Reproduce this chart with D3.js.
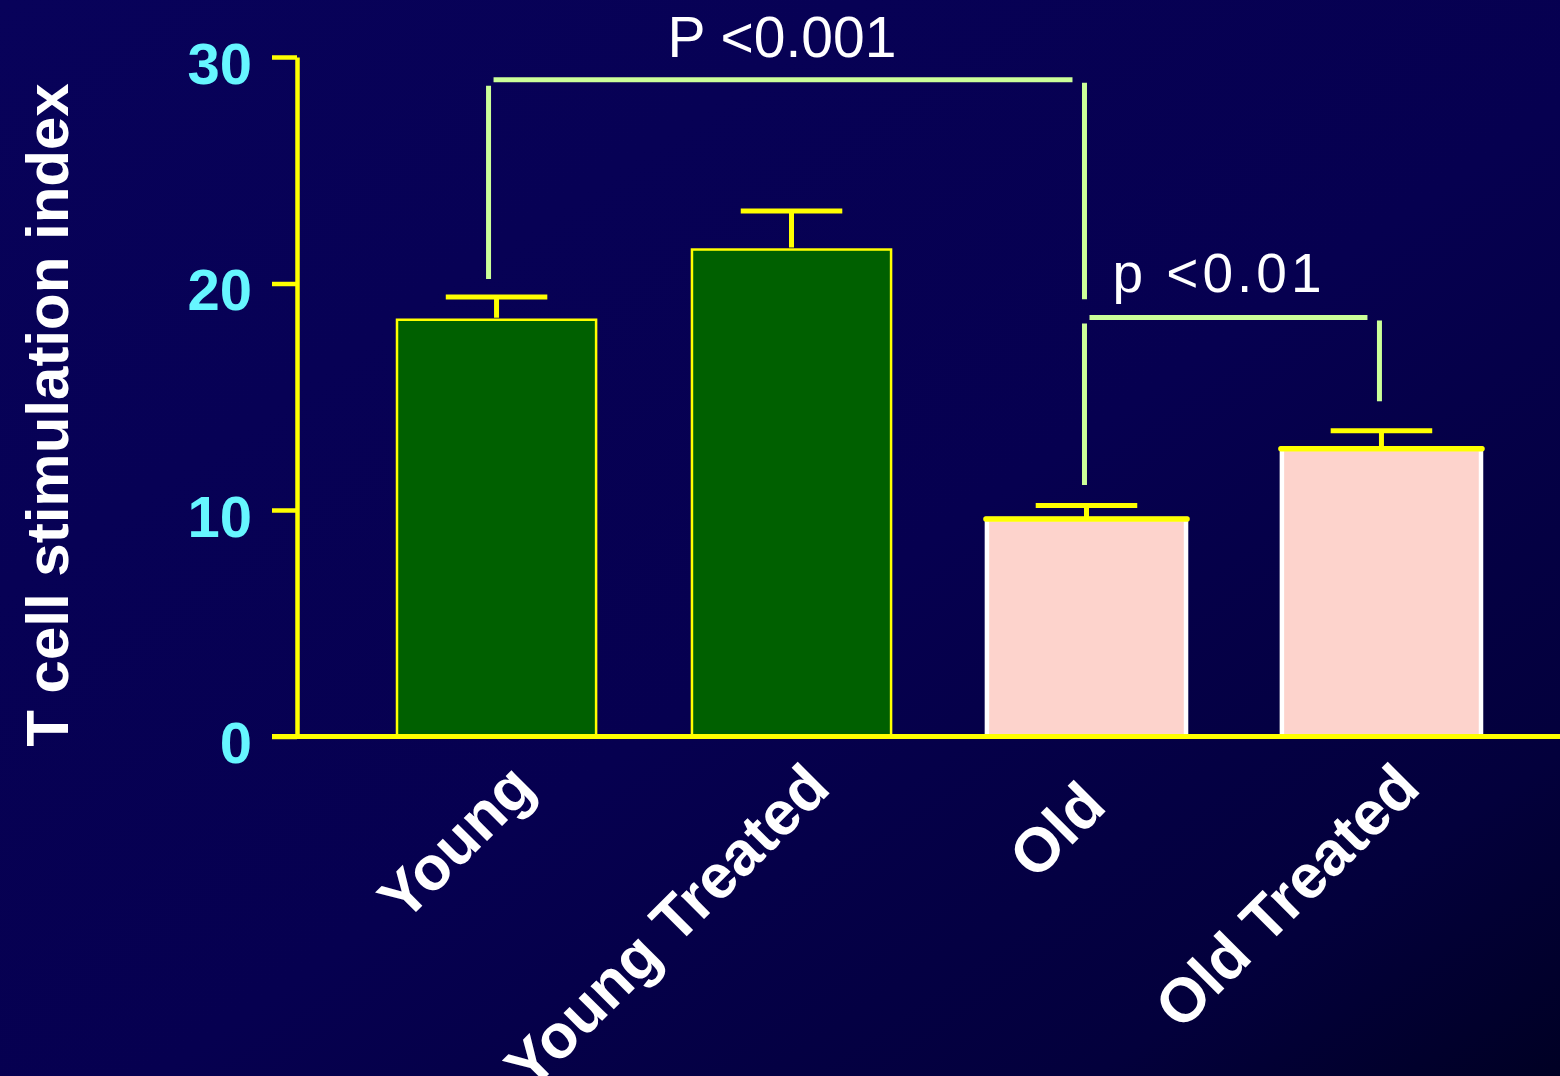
<!DOCTYPE html>
<html>
<head>
<meta charset="utf-8">
<script src="https://cdn.jsdelivr.net/npm/d3@7"></script>
<style>
  html, body { margin: 0; padding: 0; background: #05004f; }
  svg { display: block; }
  text { font-family: "Liberation Sans", Arial, Helvetica, sans-serif; }
</style>
</head>
<body>
<svg id="chart" width="1560" height="1076"></svg>
<script>
// Group means and SEM of the T cell stimulation index
const categories = ["Young", "Young Treated", "Old", "Old Treated"];
const means = [18.4, 21.5, 9.6, 12.7];
const sems = [1.0, 1.7, 0.6, 0.8];
const ageGroup = ["young", "young", "old", "old"];
const yTicks = [0, 10, 20, 30];

// Significance comparisons: pairs of category indices, label, bracket level and leg ends (index units)
const sigPairs = [[0, 2], [2, 3]];
const sigLabels = ["P <0.001", "p <0.01"];
const sigLevels = [29.0, 18.5];
const sigLegEnds = [[20.2, 19.3], [11.1, 14.8]];

const W = 1560, H = 1076;
const svg = d3.select("#chart");

// Background: deep navy gradient darkening toward the lower right
const defs = svg.append("defs");
const grad = defs.append("linearGradient")
  .attr("id", "bg").attr("x1", "0").attr("y1", "0").attr("x2", "1").attr("y2", "1");
grad.append("stop").attr("offset", "0").attr("stop-color", "#08025a");
grad.append("stop").attr("offset", "0.55").attr("stop-color", "#060050");
grad.append("stop").attr("offset", "0.85").attr("stop-color", "#03003c");
grad.append("stop").attr("offset", "1").attr("stop-color", "#000024");
svg.append("rect").attr("width", W).attr("height", H).attr("fill", "url(#bg)");

const axisX = 297, baseY = 736.5, topY = 57;

const x = d3.scaleBand()
  .domain(categories)
  .range([axisX, 1581])
  .paddingInner(0.325)
  .paddingOuter(0.339);

const y = d3.scaleLinear().domain([0, 30]).range([baseY, topY]);

const YELLOW = "#ffff00";
const SIG = "#ccff99";

// Bars
const bars = svg.append("g");
categories.forEach((c, i) => {
  const x0 = x(c), bw = x.bandwidth();
  if (ageGroup[i] === "young") {
    bars.append("rect")
      .attr("x", x0).attr("y", y(means[i]))
      .attr("width", bw).attr("height", y(0) - y(means[i]))
      .attr("fill", "#006000")
      .attr("stroke", YELLOW).attr("stroke-width", 2.5);
  } else {
    bars.append("rect")
      .attr("x", x0).attr("y", y(means[i]))
      .attr("width", bw).attr("height", y(0) - y(means[i]))
      .attr("fill", "#fdd3cc")
      .attr("stroke", "#ffffff").attr("stroke-width", 4.5);
    bars.append("line")
      .attr("x1", x0 - 1).attr("x2", x0 + bw + 1)
      .attr("y1", y(means[i])).attr("y2", y(means[i]))
      .attr("stroke", YELLOW).attr("stroke-width", 5.5)
      .attr("stroke-linecap", "round");
  }
});

// Error bars (upper SEM)
const err = svg.append("g").attr("stroke", YELLOW).attr("stroke-width", 5);
categories.forEach((c, i) => {
  const cx = x(c) + x.bandwidth() / 2;
  const capHalf = x.bandwidth() * 0.255;
  err.append("line")
    .attr("x1", cx).attr("x2", cx)
    .attr("y1", y(means[i] + sems[i])).attr("y2", y(means[i]) - 2);
  err.append("line")
    .attr("x1", cx - capHalf).attr("x2", cx + capHalf)
    .attr("y1", y(means[i] + sems[i])).attr("y2", y(means[i] + sems[i]));
});

// Y axis
const yAxis = svg.append("g")
  .attr("transform", `translate(${axisX},0)`)
  .call(d3.axisLeft(y).tickValues(yTicks).tickFormat(d3.format("d"))
    .tickSize(25).tickSizeOuter(0).tickPadding(20));
yAxis.select(".domain").attr("stroke", YELLOW).attr("stroke-width", 4.5);
yAxis.selectAll(".tick line").attr("stroke", YELLOW).attr("stroke-width", 4.5);
yAxis.selectAll(".tick text")
  .attr("fill", "#66f6ff")
  .attr("font-size", 58)
  .attr("font-weight", "bold")
  .attr("font-family", "'Liberation Sans', Arial, sans-serif")
  .attr("dy", "0.45em");

// X axis with rotated category labels
const xAxis = svg.append("g")
  .attr("transform", `translate(0,${baseY})`)
  .call(d3.axisBottom(x).tickSize(0).tickSizeOuter(0));
xAxis.select(".domain").remove();
xAxis.selectAll(".tick text")
  .attr("fill", "#ffffff")
  .attr("font-size", 62)
  .attr("font-weight", "bold")
  .attr("font-family", "'Liberation Sans', Arial, sans-serif")
  .attr("text-anchor", "end")
  .attr("x", 0).attr("y", 0).attr("dy", 0)
  .attr("transform", d => d === "Old" ? "translate(22,72) rotate(-45)" : "translate(41,54) rotate(-45)");
svg.append("line")
  .attr("x1", 272).attr("x2", W)
  .attr("y1", baseY).attr("y2", baseY)
  .attr("stroke", YELLOW).attr("stroke-width", 5);

// Y axis title
svg.append("text")
  .attr("transform", "translate(68,415) rotate(-90)")
  .attr("text-anchor", "middle")
  .attr("fill", "#ffffff")
  .attr("font-size", 60)
  .attr("font-weight", "bold")
  .text("T cell stimulation index");

// Significance brackets
const sig = svg.append("g").attr("stroke", SIG).attr("stroke-width", 5);
sigPairs.forEach((p, k) => {
  const xa = x(categories[p[0]]) + x.bandwidth() / 2 - (k === 0 ? 8 : 2);
  const xb = x(categories[p[1]]) + x.bandwidth() / 2 - 2;
  const yl = y(sigLevels[k]);
  sig.append("line").attr("x1", xa + 5).attr("x2", xb - 12).attr("y1", yl).attr("y2", yl);
  sig.append("line").attr("x1", xa).attr("x2", xa).attr("y1", yl + 6).attr("y2", y(sigLegEnds[k][0]));
  sig.append("line").attr("x1", xb).attr("x2", xb).attr("y1", yl + 3).attr("y2", y(sigLegEnds[k][1]));
});

// Significance labels
svg.append("text")
  .attr("x", 782).attr("y", y(sigLevels[0]) - 23)
  .attr("text-anchor", "middle").attr("fill", "#ffffff")
  .attr("font-size", 57)
  .text(sigLabels[0]);
svg.append("text")
  .attr("x", 1219).attr("y", y(sigLevels[1]) - 25)
  .attr("text-anchor", "middle").attr("fill", "#ffffff")
  .attr("font-size", 55).attr("letter-spacing", 4)
  .text(sigLabels[1]);
</script>
</body>
</html>
